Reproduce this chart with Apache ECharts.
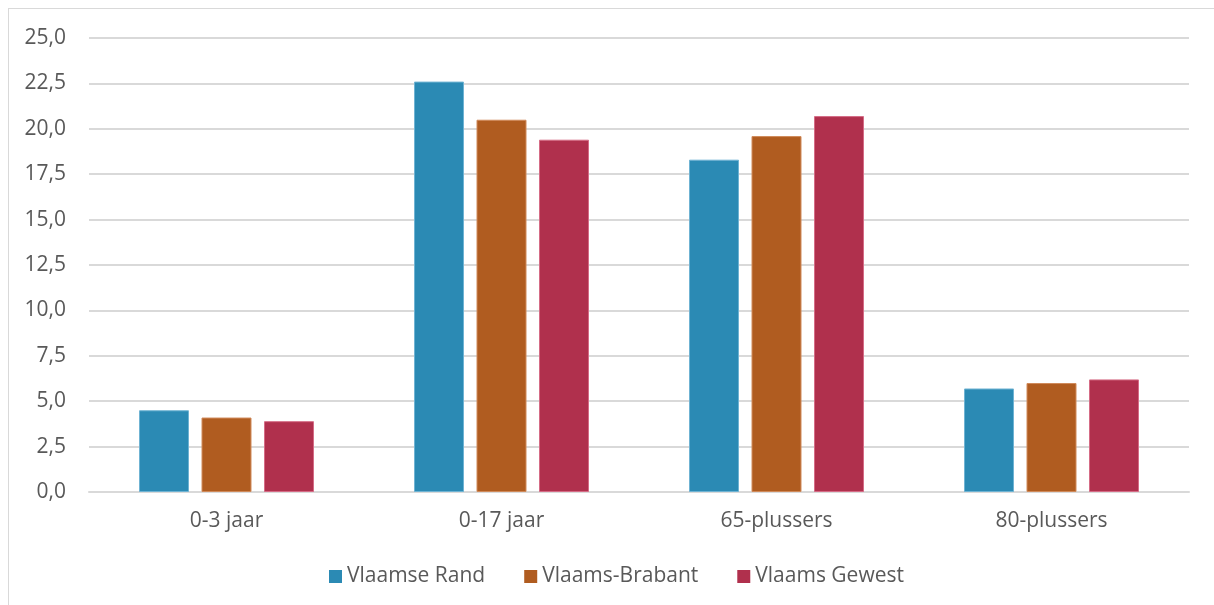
<!DOCTYPE html>
<html>
<head>
<meta charset="utf-8">
<script src="https://cdn.jsdelivr.net/npm/echarts@6/dist/echarts.min.js"></script>
<style>
  html, body { margin: 0; padding: 0; background: #fff; }
  #frame { position: absolute; left: 8px; top: 8px; width: 1240px; height: 640px; border: 1.5px solid #d9d9d9; box-sizing: border-box; }
  #chart { position: absolute; left: 0; top: 0; width: 1214px; height: 605px; }
</style>
</head>
<body>
<div id="frame"></div>
<div id="chart"></div>
<script>
// leeftijdsgroepen
var categories = ['0-3 jaar', '0-17 jaar', '65-plussers', '80-plussers'];
var seriesNames = ['Vlaamse Rand', 'Vlaams-Brabant', 'Vlaams Gewest'];
var vlaamseRand = [4.5, 22.6, 18.3, 5.7];
var vlaamsBrabant = [4.1, 20.5, 19.6, 6.0];
var vlaamsGewest = [3.9, 19.4, 20.7, 6.2];

var colors = ['#2b8ab4', '#b05c20', '#b0304d'];
var borders = ['#6fb3d3', '#d08a5a', '#d56c86'];

var chart = echarts.init(document.getElementById('chart'));

var fontFam = '"Open Sans", "Noto Sans", sans-serif';
var txtColor = '#595959';

function makeSeries(name, data, i) {
  return {
    name: name,
    type: 'bar',
    data: data,
    barWidth: 50,
    barGap: '25%',
    itemStyle: { color: colors[i], borderColor: borders[i], borderWidth: 1 }
  };
}

var option = {
  animation: false,
  textStyle: { fontFamily: fontFam },
  legend: {
    data: seriesNames,
    top: 566,
    left: 329,
    padding: 0,
    itemWidth: 13,
    itemHeight: 13,
    itemGap: 39,
    icon: 'rect',
    itemStyle: { borderWidth: 0 },
    textStyle: { fontSize: 21, color: txtColor, fontFamily: fontFam, padding: [0, 0, 0, 0] }
  },
  grid: {
    left: 89,
    right: 25,
    top: 38,
    bottom: 113
  },
  xAxis: {
    type: 'category',
    data: categories,
    axisLine: { show: true, lineStyle: { color: '#d9d9d9', width: 2 } },
    axisTick: { show: false },
    axisLabel: { fontSize: 21, color: txtColor, margin: 19, fontFamily: fontFam }
  },
  yAxis: {
    type: 'value',
    min: 0,
    max: 25,
    interval: 2.5,
    axisLine: { show: false },
    axisTick: { show: false },
    splitLine: { lineStyle: { color: '#d9d9d9', width: 2 } },
    axisLabel: {
      fontSize: 21,
      color: txtColor,
      margin: 23,
      fontFamily: fontFam,
      formatter: function (v) { return v.toFixed(1).replace('.', ','); }
    }
  },
  series: [
    makeSeries(seriesNames[0], vlaamseRand, 0),
    makeSeries(seriesNames[1], vlaamsBrabant, 1),
    makeSeries(seriesNames[2], vlaamsGewest, 2)
  ]
};

chart.setOption(option);
</script>
</body>
</html>
